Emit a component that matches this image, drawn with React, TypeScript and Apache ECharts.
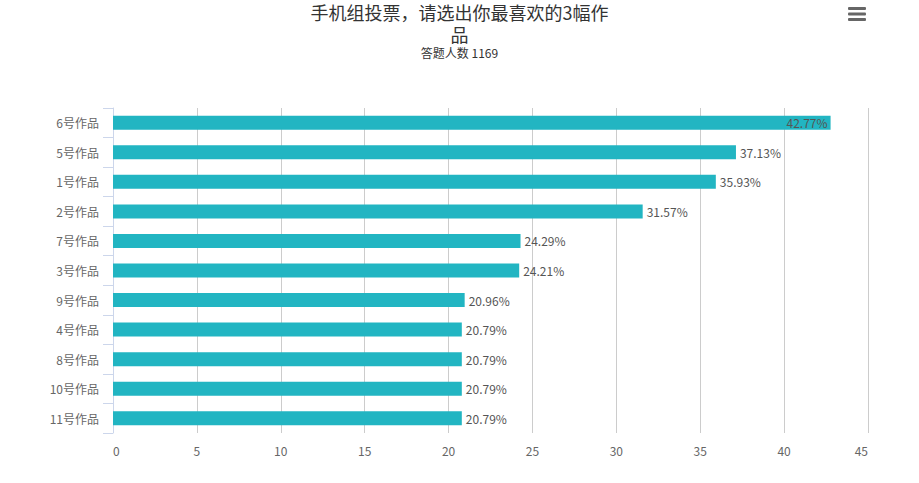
import React, { useEffect, useRef } from "react";
import * as echarts from "echarts";

const categories = ["6号作品", "5号作品", "1号作品", "2号作品", "7号作品", "3号作品", "9号作品", "4号作品", "8号作品", "10号作品", "11号作品"];
const values = [42.77, 37.13, 35.93, 31.57, 24.29, 24.21, 20.96, 20.79, 20.79, 20.79, 20.79];
const titleText = "手机组投票，请选出你最喜欢的3幅作\n品";
const subtitleText = "答题人数 1169";

const FONT = "'Noto Sans CJK SC', 'Noto Sans', sans-serif";

export default function App() {
  const ref = useRef<HTMLDivElement>(null);
  useEffect(() => {
    document.body.style.margin = "0";
    if (!ref.current) return;
    const chart = echarts.init(ref.current, undefined, { renderer: "svg" });
    const maxVal = Math.max(...values);
    chart.setOption({
      animation: false,
      textStyle: { fontFamily: FONT },
      title: {
        text: titleText,
        subtext: subtitleText,
        left: "center",
        top: 1,
        padding: 0,
        itemGap: 0,
        textStyle: { fontSize: 18, fontWeight: "normal", color: "#333", lineHeight: 22, fontFamily: FONT },
        subtextStyle: { fontSize: 12, color: "#333", lineHeight: 14, fontFamily: FONT },
      },
      grid: { left: 113, right: 51, top: 108, bottom: 50 },
      xAxis: {
        type: "value",
        min: 0,
        max: 45,
        interval: 5,
        axisLine: { show: false },
        axisTick: { show: false },
        splitLine: { show: true, lineStyle: { color: "#cccccc", width: 1 } },
        axisLabel: { color: "#666", fontSize: 12, margin: 11, alignMinLabel: "left", alignMaxLabel: "right" },
      },
      yAxis: {
        type: "category",
        data: categories,
        inverse: true,
        axisLine: { show: true, lineStyle: { color: "#ccd6eb" } },
        axisTick: { show: true, length: 10, lineStyle: { color: "#ccd6eb" } },
        axisLabel: { color: "#666", fontSize: 12, margin: 14 },
      },
      series: [
        {
          type: "bar",
          barWidth: 14,
          itemStyle: { color: "#22b5c2" },
          data: values.map((v) => ({
            value: v,
            label: v === maxVal ? { position: "insideRight", distance: 3 } : undefined,
          })),
          label: {
            show: true,
            position: "right",
            distance: 4,
            color: "#555",
            fontSize: 12,
            formatter: (p: any) => p.value + "%",
          },
        },
      ],
      graphic: [
        { type: "rect", shape: { x: 848, y: 7, width: 18, height: 3, r: 1 }, style: { fill: "#666" } },
        { type: "rect", shape: { x: 848, y: 12.5, width: 18, height: 3, r: 1 }, style: { fill: "#666" } },
        { type: "rect", shape: { x: 848, y: 18, width: 18, height: 3, r: 1 }, style: { fill: "#666" } },
      ],
    });
    return () => chart.dispose();
  }, []);
  return <div ref={ref} style={{ width: 919, height: 483 }} />;
}
